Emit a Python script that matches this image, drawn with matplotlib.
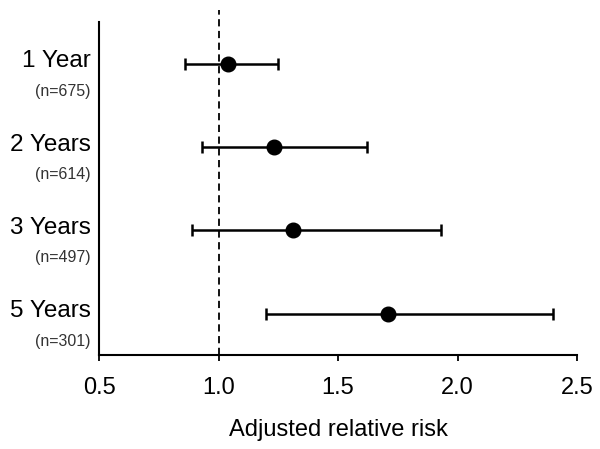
import matplotlib.pyplot as plt
from matplotlib.transforms import blended_transform_factory

plt.rcParams['font.family'] = ['Liberation Sans', 'DejaVu Sans']

#data
groups = ["1 Year", "2 Years", "3 Years", "5 Years"]
counts = ["(n=675)", "(n=614)", "(n=497)", "(n=301)"]
risk = [1.04, 1.23, 1.31, 1.71]
ci_low = [0.86, 0.93, 0.89, 1.20]
ci_high = [1.25, 1.62, 1.93, 2.40]
x_ticks = [0.5, 1.0, 1.5, 2.0, 2.5]

fig = plt.figure(figsize=(6, 4.49), dpi=100)
ax = fig.add_axes([0.165, 0.209, 0.797, 0.769])

#y positions, first group at the top
ypos = [len(groups) - i for i in range(len(groups))]
err = [[r - lo for r, lo in zip(risk, ci_low)], [hi - r for r, hi in zip(risk, ci_high)]]

ax.axvline(1.0, color='black', linestyle=(0, (4, 2.5)), linewidth=1.3, zorder=1)
ax.errorbar(risk, ypos, xerr=err, fmt='o', color='black', markersize=10.5,
            elinewidth=1.8, capsize=4.5, capthick=1.8, zorder=3)

#group labels to the left of the axis
trans = blended_transform_factory(ax.transAxes, ax.transData)
for y, g, n in zip(ypos, groups, counts):
    ax.text(-0.017, y + 0.03, g, transform=trans, ha='right', va='center', fontsize=17.5)
    ax.text(-0.017, y - 0.33, n, transform=trans, ha='right', va='center', fontsize=11.5, color='#333333')

ax.set_xlim(0.5, 2.5)
ax.set_ylim(0.5, 4.65)
ax.set_xticks(x_ticks)
ax.set_xticklabels([f"{t:.1f}" for t in x_ticks])
ax.set_yticks([])
ax.tick_params(axis='x', length=4, width=1.3, pad=12, labelsize=17)
ax.set_xlabel("Adjusted relative risk", fontsize=17, labelpad=14)

for side in ['top', 'right']:
    ax.spines[side].set_visible(False)
ax.spines['left'].set_bounds(0.5, 4.5)
ax.spines['left'].set_linewidth(1.5)
ax.spines['bottom'].set_linewidth(1.5)

plt.savefig("out.png", dpi=100)
plt.close()
